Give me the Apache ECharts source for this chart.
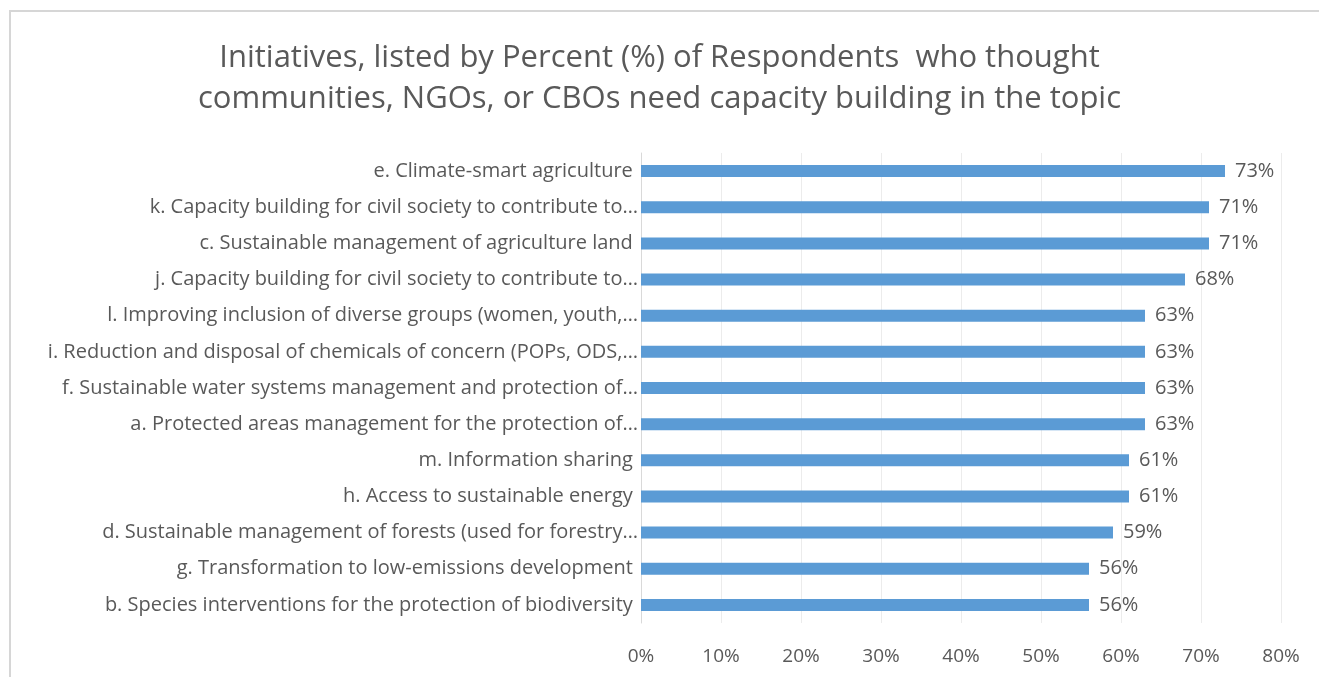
<!DOCTYPE html>
<html>
<head>
<meta charset="utf-8">
<script src="https://cdn.jsdelivr.net/npm/echarts@6/dist/echarts.min.js"></script>
<style>
  html, body { margin: 0; padding: 0; background: #fff; }
  #frame {
    position: absolute; left: 9px; top: 10px; width: 1310px; height: 667px;
    border-top: 2px solid #d6d6d6; border-left: 2px solid #d6d6d6;
    box-sizing: border-box;
  }
  #chart { position: absolute; left: 0; top: 0; width: 1319px; height: 677px; }
</style>
</head>
<body>
<div id="frame"></div>
<div id="chart"></div>
<script>
// 条目（从上到下）
var categories = [
  'e. Climate-smart agriculture ',
  'k. Capacity building for civil society to contribute to…',
  'c. Sustainable management of agriculture land ',
  'j. Capacity building for civil society to contribute to…',
  'l. Improving inclusion of diverse groups (women, youth,…',
  'i. Reduction and disposal of chemicals of concern (POPs, ODS,…',
  'f. Sustainable water systems management and protection of…',
  'a. Protected areas management for the protection of…',
  'm. Information sharing ',
  'h. Access to sustainable energy ',
  'd. Sustainable management of forests (used for forestry…',
  'g. Transformation to low-emissions development ',
  'b. Species interventions for the protection of biodiversity '
]
var percents = [73, 71, 71, 68, 63, 63, 63, 63, 61, 61, 59, 56, 56]
var xTicks = [0, 10, 20, 30, 40, 50, 60, 70, 80]

var font = "'Open Sans', 'DejaVu Sans', sans-serif"
var textColor = '#595959'

var chart = echarts.init(document.getElementById('chart'))
chart.setOption({
  animation: false,
  title: {
    text: 'Initiatives, listed by Percent (%) of Respondents  who thought\ncommunities, NGOs, or CBOs need capacity building in the topic',
    left: 'center',
    top: 33,
    textStyle: {
      fontFamily: font,
      fontSize: 31,
      fontWeight: 'normal',
      color: textColor,
      lineHeight: 41
    }
  },
  grid: {
    left: 641,
    right: 38,
    top: 153,
    bottom: 54,
    containLabel: false
  },
  xAxis: {
    type: 'value',
    min: xTicks[0],
    max: xTicks[xTicks.length - 1],
    interval: 10,
    axisLine: { show: false },
    axisTick: { show: false },
    splitLine: { lineStyle: { color: '#ececec', width: 1 } },
    axisLabel: {
      margin: 24,
      color: textColor,
      fontFamily: font,
      fontSize: 19,
      formatter: '{value}%'
    }
  },
  yAxis: {
    type: 'category',
    inverse: true,
    data: categories,
    axisLine: { show: true, lineStyle: { color: '#d9d9d9' } },
    axisTick: { show: false },
    axisLabel: {
      margin: 3,
      color: textColor,
      fontFamily: font,
      fontSize: 20
    }
  },
  series: [
    {
      type: 'bar',
      data: percents,
      barWidth: 12,
      itemStyle: { color: '#5b9bd5' },
      label: {
        show: true,
        position: 'right',
        distance: 10,
        color: textColor,
        fontFamily: font,
        fontSize: 20,
        formatter: '{c}%'
      }
    }
  ]
})
</script>
</body>
</html>
